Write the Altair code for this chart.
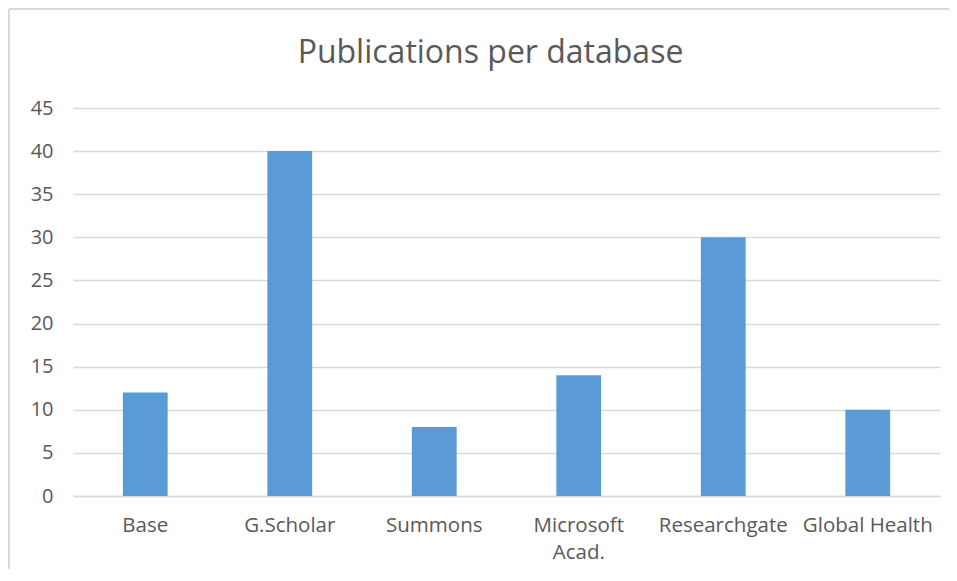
import altair as alt
import pandas as pd

categories = ["Base", "G.Scholar", "Summons", "Microsoft Acad.", "Researchgate", "Global Health"]
values = [12, 40, 8, 14, 30, 10]
y_ticks = [0, 5, 10, 15, 20, 25, 30, 35, 40, 45]

df = pd.DataFrame({"database": categories, "count": values})

FONT = "Open Sans"
GRAY = "#595959"
GRID = "#D9D9D9"

bars = alt.Chart(df).mark_bar(color="#5B9BD5").encode(
    x=alt.X(
        "database:N",
        sort=categories,
        title=None,
        scale=alt.Scale(paddingInner=0.69, paddingOuter=0.345),
        axis=alt.Axis(
            labelAngle=0,
            labelFont=FONT,
            labelFontSize=20.5,
            labelColor=GRAY,
            labelPadding=19,
            labelLineHeight=27,
            labelBaseline="top",
            ticks=False,
            domainColor=GRID,
            domainWidth=1.5,
            labelExpr="datum.label == 'Microsoft Acad.' ? ['Microsoft', 'Acad.'] : datum.label",
        ),
    ),
    y=alt.Y(
        "count:Q",
        title=None,
        scale=alt.Scale(domain=[0, 45], nice=False),
        axis=alt.Axis(
            values=y_ticks,
            labelFont=FONT,
            labelFontSize=20,
            labelColor=GRAY,
            labelPadding=20,
            ticks=False,
            domain=False,
            gridColor=GRID,
            gridWidth=1.5,
        ),
    ),
)

border = alt.Chart(pd.DataFrame({"k": [0]})).mark_rule(color=GRID, strokeWidth=2).encode(
    x=alt.value(-64), x2=alt.value(900), y=alt.value(-99)
)
border_left = alt.Chart(pd.DataFrame({"k": [0]})).mark_rule(color=GRID, strokeWidth=2).encode(
    x=alt.value(-64), y=alt.value(-99), y2=alt.value(470)
)

chart = alt.layer(border, border_left, bars).properties(
    width=867,
    height=388,
    autosize=alt.AutoSizeParams(type="none"),
    padding={"left": 65, "top": 100, "right": 9, "bottom": 73},
    title=alt.TitleParams(
        "Publications per database",
        font=FONT,
        fontSize=32,
        fontWeight="normal",
        color=GRAY,
        anchor="middle",
        baseline="alphabetic",
        dx=-16,
        offset=-87,
    ),
).configure_view(stroke=None)

chart.save("out.html", embed_options={"renderer": "svg", "actions": False})
